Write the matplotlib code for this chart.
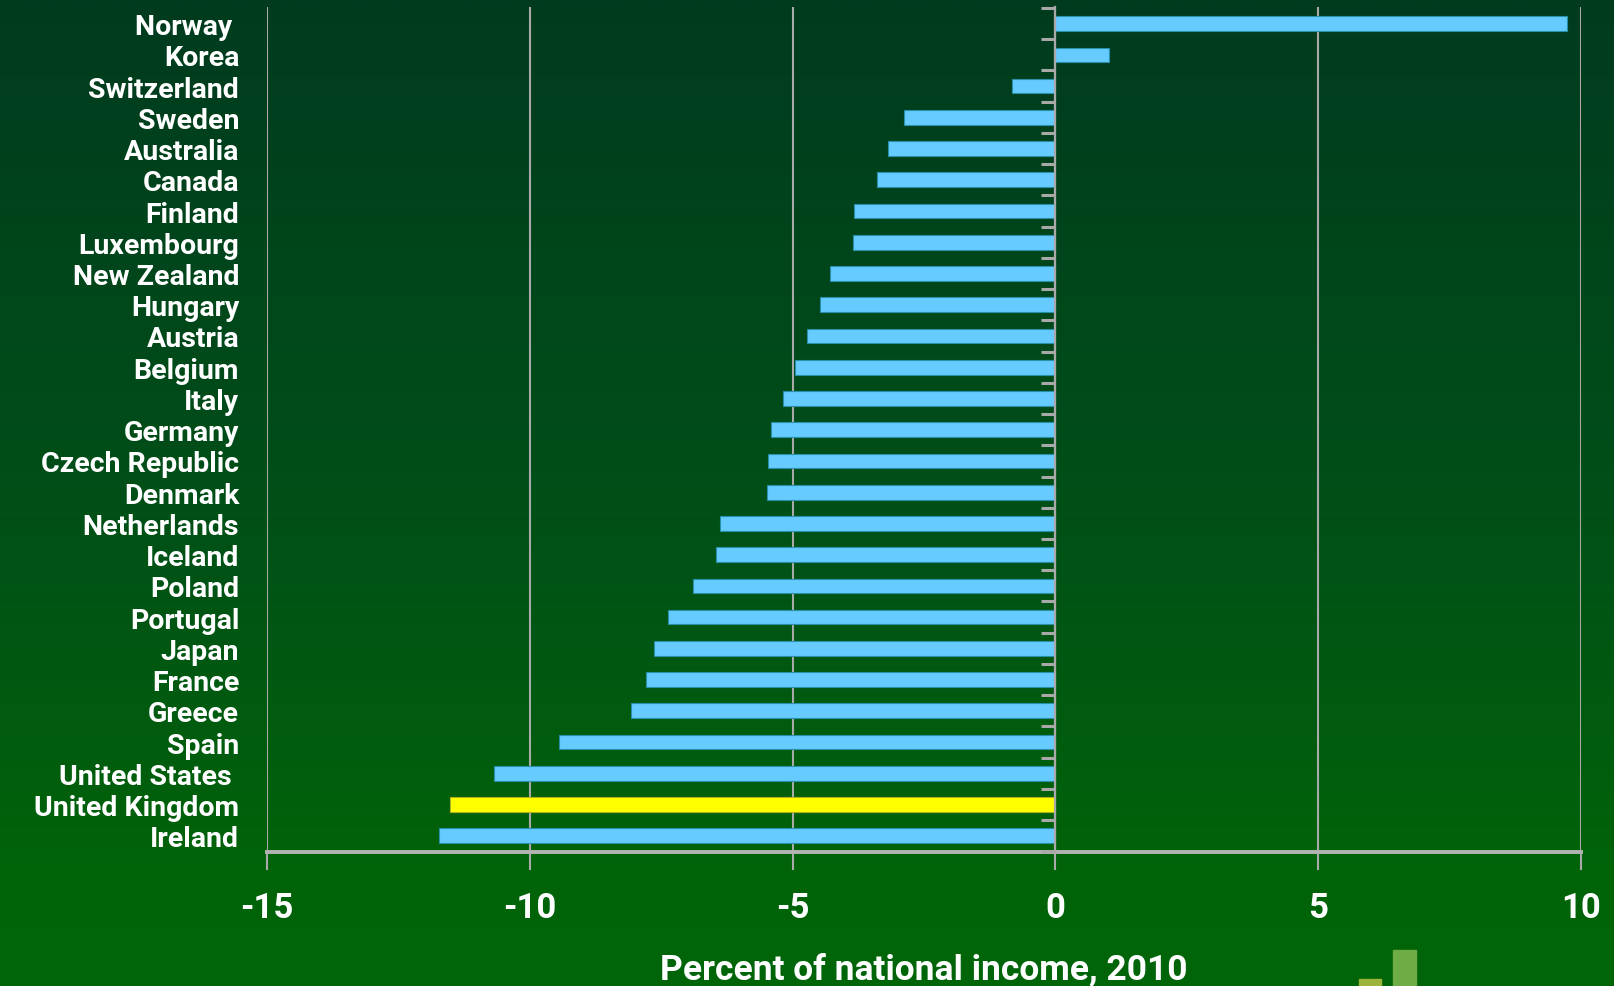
import numpy as np
import matplotlib
matplotlib.use("Agg")
import matplotlib.pyplot as plt
from matplotlib import font_manager
from matplotlib.colors import LinearSegmentedColormap
from matplotlib.patches import Rectangle

# ---------------- data (top to bottom) ----------------
countries = ["Norway ", "Korea", "Switzerland", "Sweden", "Australia", "Canada",
             "Finland", "Luxembourg", "New Zealand", "Hungary", "Austria", "Belgium",
             "Italy", "Germany", "Czech Republic", "Denmark", "Netherlands", "Iceland",
             "Poland", "Portugal", "Japan", "France", "Greece", "Spain",
             "United States ", "United Kingdom", "Ireland"]
values = [9.73, 1.02, -0.83, -2.88, -3.19, -3.39,
          -3.83, -3.85, -4.29, -4.48, -4.73, -4.95,
          -5.19, -5.41, -5.46, -5.48, -6.38, -6.45,
          -6.89, -7.38, -7.64, -7.79, -8.08, -9.44,
          -10.68, -11.51, -11.73]
highlight = "United Kingdom"
x_ticks = [-15, -10, -5, 0, 5, 10]
x_label = "Percent of national income, 2010"

# ---------------- font ----------------
avail = {f.name for f in font_manager.fontManager.ttflist}
family = "Roboto" if "Roboto" in avail else "DejaVu Sans"
plt.rcParams["font.family"] = [family, "DejaVu Sans"]
plt.rcParams["font.weight"] = "bold"

W, H, DPI = 1614, 987, 100
fig = plt.figure(figsize=(W / DPI, H / DPI), dpi=DPI)

# background gradient
bg = fig.add_axes([0, 0, 1, 1], zorder=-10)
cmap = LinearSegmentedColormap.from_list(
    "bg", [(0.0, "#003b1f"), (0.5, "#004f18"), (0.88, "#006309"), (1.0, "#006508")])
grad = np.linspace(0, 1, 512).reshape(-1, 1)
bg.imshow(grad, aspect="auto", cmap=cmap, extent=[0, 1, 0, 1], origin="upper")
bg.axis("off")

# logo
fig.patches.append(Rectangle((1359 / W, 0), 22 / W, (H - 980) / H,
                             transform=fig.transFigure, color="#9db43a", zorder=1))
fig.patches.append(Rectangle((1393 / W, 0), 23 / W, (H - 951) / H,
                             transform=fig.transFigure, color="#6fac45", zorder=1))

ax = fig.add_axes([267 / W, 1 - 853 / H, (1581 - 267) / W, (853 - 8.4) / H])
ax.set_facecolor("none")

n = len(countries)
ypos = np.arange(n)[::-1]
colors = ["#ffff00" if c.strip() == highlight else "#66ccff" for c in countries]
ax.barh(ypos, values, height=0.47, color=colors,
        edgecolor=["#b0b020" if c.strip() == highlight else "#2a8fa8" for c in countries],
        linewidth=0.8, zorder=3)

ax.set_xlim(-15, 10)
ax.set_ylim(-0.52, n - 0.48)

grid_col = "#a9a9a9"
ax.set_xticks(x_ticks)
ax.set_xticklabels([f"{t:d}" for t in x_ticks])
ax.tick_params(axis="x", direction="out", length=13, width=1.5, color=grid_col,
               pad=15, labelsize=25, labelcolor="white")
ax.xaxis.grid(True, color=grid_col, linewidth=1.5, zorder=1)
ax.set_axisbelow(True)

ax.set_yticks(ypos)
ax.set_yticklabels(countries)
ax.tick_params(axis="y", length=0, pad=20, labelsize=20.5, labelcolor="white")
for lbl in ax.get_yticklabels() + ax.get_xticklabels():
    lbl.set_fontweight("bold")

for s in ["left", "right", "top"]:
    ax.spines[s].set_visible(False)
ax.spines["bottom"].set_color("#b4b4b4")
ax.spines["bottom"].set_linewidth(2.8)

# zero axis with category-boundary ticks
sec = ax.secondary_yaxis(0, transform=ax.transData)
sec.set_yticks(np.arange(n + 1) - 0.5)
sec.set_yticklabels([])
sec.tick_params(axis="y", direction="out", length=10, width=2.2, color=grid_col)
sec.spines["left"].set_color(grid_col)
sec.spines["left"].set_linewidth(1.6)
sec.set_zorder(4)

ax.set_xlabel(x_label, fontsize=25.5, color="white", fontweight="bold", labelpad=20)

fig.savefig("out.png", dpi=DPI)
